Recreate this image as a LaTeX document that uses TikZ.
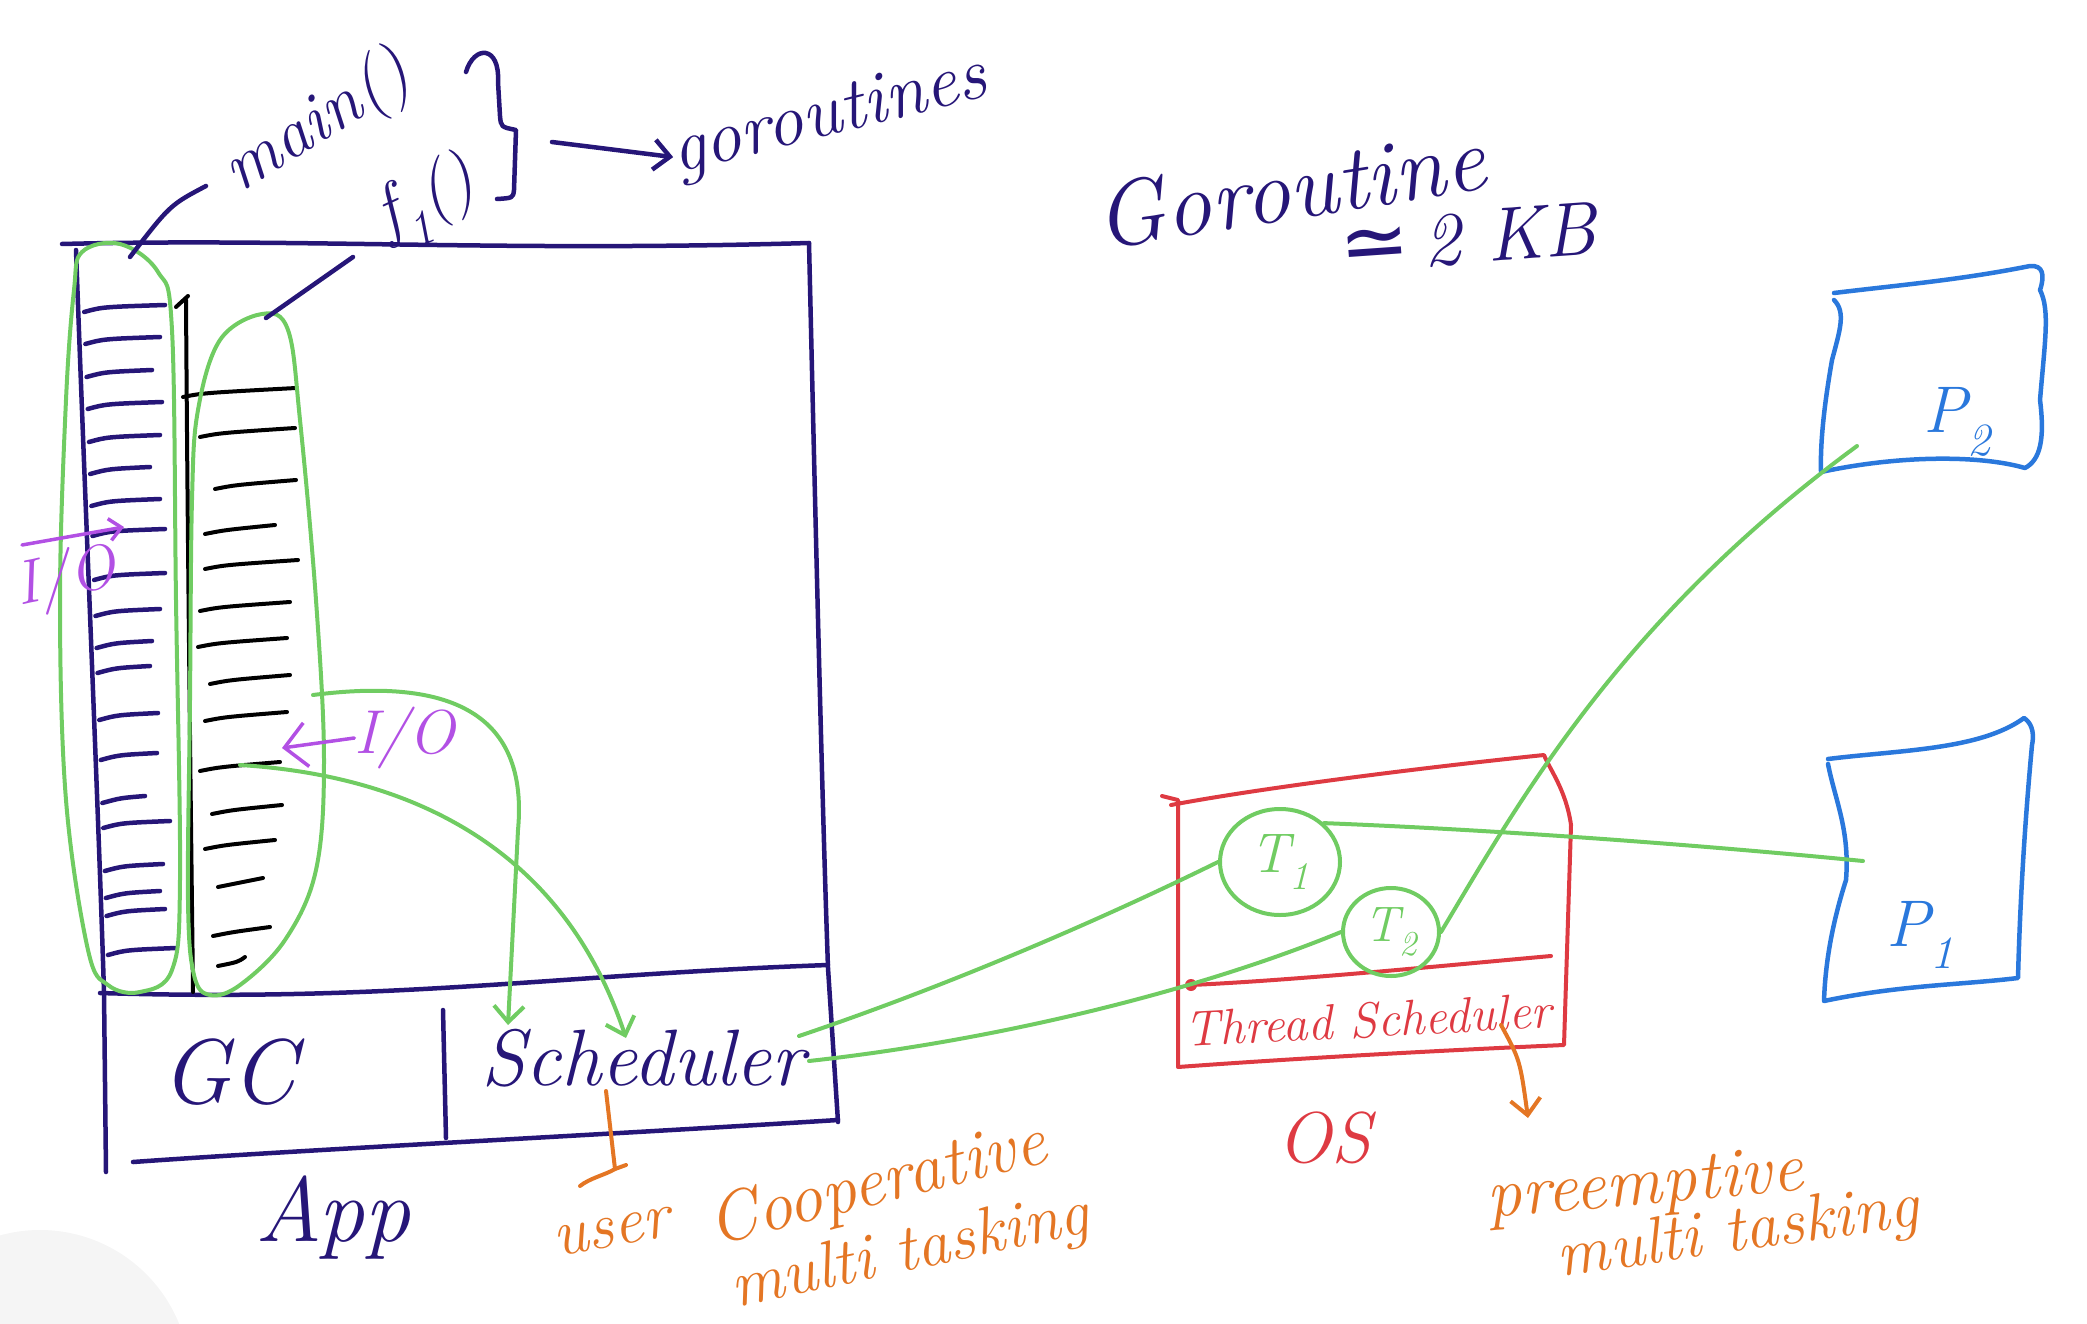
\documentclass[tikz,border=0pt]{standalone}
\usepackage{fontspec}
\newfontfamily\symfont{DejaVu Sans}
\usetikzlibrary{arrows.meta,shapes.geometric}
\definecolor{navy}{RGB}{38,22,120}
\definecolor{gr}{RGB}{112,204,98}
\definecolor{rd}{RGB}{222,58,66}
\definecolor{og}{RGB}{228,118,36}
\definecolor{bl}{RGB}{42,120,220}
\definecolor{pu}{RGB}{178,80,228}
\begin{document}
\begin{tikzpicture}[x=1pt,y=-1pt,line cap=round,line join=round,
  navyline/.style={draw=navy,line width=4.5pt},
  blackline/.style={draw=black,line width=4pt},
  greenline/.style={draw=gr,line width=4pt},
  redline/.style={draw=rd,line width=4pt},
  orangeline/.style={draw=og,line width=4pt},
  blueline/.style={draw=bl,line width=4.5pt},
  purpleline/.style={draw=pu,line width=3.5pt},
  barb/.style={-{Straight Barb[length=16pt,width=30pt]}},
  hand/.style={font=\fontsize{70}{80}\selectfont\itshape,inner sep=0pt},
  thread/.style={ellipse,draw=gr,line width=4pt,inner sep=0pt}]
\useasboundingbox (0,0) rectangle (2087,1324);
% faint overlay at bottom left
\fill[gray!8] (40,1380) circle (150);
% ---------------- App box ----------------
\draw[navyline] (62,244) .. controls (300,238) and (500,252) .. (809,243);
\draw[navyline] (809,243) .. controls (815,500) and (822,800) .. (828,968) -- (838,1122);
\draw[navyline] (76,250) .. controls (85,500) and (98,800) .. (104,992) -- (106,1172);
\draw[navyline] (100,993) .. controls (400,1002) and (550,975) .. (828,965);
\draw[navyline] (133,1162) .. controls (300,1150) and (600,1135) .. (838,1120);
\draw[navyline] (443,1010) -- (446,1138);
% left stack dashes (navy)
\foreach \y/\e in {309/165,341/160,374/152,406/162,439/160,471/150,503/160,533/165,577/165,613/160,645/152,670/150,717/158,757/157,800/145,825/170,868/163,895/160,913/165,952/176}
  \draw[navyline] ({82+0.037*(\y-250)},\y+3) .. controls ({100+0.037*(\y-250)},\y-2) .. (\e,\y-4);
% black stack
\draw[blackline] (186,300) .. controls (188,600) and (192,900) .. (193,992);
\draw[blackline] (176,307) -- (188,296);
\foreach \y/\a/\e in {393/183/296,433/200/295,485/215/296,530/205/275,565/205/298,607/200/290,643/198/287,680/210/290,717/205/287,767/200/280,810/212/282,845/205/275,883/218/263,932/213/270,962/218/245}
  \draw[blackline] (\a,\y+4) .. controls ({\a+20},\y) .. (\e,\y-5);
% green loops (goroutines)
\draw[greenline] plot[smooth cycle,tension=0.6] coordinates {(82,252) (120,244) (158,272) (172,330) (176,600) (180,880) (172,970) (140,992) (108,985) (88,950) (66,800) (60,600) (66,400) (74,290)};
\draw[greenline] plot[smooth cycle,tension=0.6] coordinates {(262,314) (288,330) (300,420) (316,600) (324,760) (316,870) (285,940) (240,985) (210,995) (194,975) (188,900) (190,700) (192,500) (198,410) (220,340)};
\coordinate (loopA) at (130,257);
\coordinate (loopB) at (266,318);
% labels at top
\node[hand,navy,rotate=32] (main) at (318,124) {main()};
\node[hand,navy,rotate=25] (f1) at (428,202) {f\textsubscript{1}()};
\coordinate (mainptr) at (206,186);
\coordinate (f1ptr) at (353,257);
\draw[navyline] (mainptr) .. controls (170,205) .. (loopA);
\draw[navyline] (f1ptr) -- (loopB);
% brace
\draw[navyline] (466,72) .. controls (474,45) and (500,45) .. (498,82) -- (500,116) .. controls (501,127) .. (516,130) -- (514,190) .. controls (513,198) .. (497,199);
\coordinate (braceR) at (552,142);
\node[hand,navy,rotate=14,font=\fontsize{74}{80}\selectfont\itshape] (gor) at (830,118) {goroutines};
\draw[navyline,barb] (braceR) -- (gor.west);
% Goroutine size
\node[hand,navy,rotate=9,font=\fontsize{92}{100}\selectfont\itshape] (gsize) at (1290,188) {Goroutine};
\node[hand,navy,rotate=4,font=\fontsize{76}{80}\selectfont\itshape] (kb) at (1468,238) {{\symfont\fontsize{84}{90}\selectfont ≃}\,2 KB};
% bottom row labels
\node[hand,navy,font=\fontsize{92}{100}\selectfont\itshape] (gc) at (229,1072) {GC};
\node[hand,navy,font=\fontsize{80}{90}\selectfont\itshape] (sched) at (643,1058) {Scheduler};
\node[hand,navy,font=\fontsize{92}{100}\selectfont\itshape] (app) at (333,1218) {App};
% purple I/O marks
\node[hand,pu,rotate=12,font=\fontsize{62}{70}\selectfont\itshape] (io1) at (66,580) {I/O};
\draw[purpleline,-{Straight Barb[length=12pt,width=22pt]}] (22,545) -- (124,527);
\node[hand,pu,font=\fontsize{62}{70}\selectfont\itshape] (io2) at (405,738) {I/O};
\draw[purpleline,-{Straight Barb[length=22pt,width=44pt]}] (io2.west) -- (282,748);
% green lines from goroutines to scheduler
\coordinate (ioA) at (313,695);
\coordinate (ioB) at (240,765);
\coordinate (schA) at (508,1025);
\coordinate (schB) at (626,1038);
\draw[greenline,barb] (ioA) .. controls (430,680) and (530,700) .. (518,830) -- (schA);
\draw[greenline,barb] (ioB) .. controls (400,775) and (560,840) .. (schB);
% ---------------- OS box ----------------
\draw[redline] (1162,796) -- (1178,800) -- (1178,1067) .. controls (1300,1058) and (1450,1050) .. (1564,1045) -- (1571,825) .. controls (1566,790) and (1550,770) .. (1544,755) .. controls (1400,770) and (1250,790) .. (1171,805);
\draw[redline] (1191,985) .. controls (1300,980) and (1450,965) .. (1551,956);
\fill[rd] (1191,985) circle (6);
\node[hand,rd,rotate=3,font=\fontsize{50}{56}\selectfont\itshape] (tsched) at (1368,1020) {Thread Scheduler};
\node[hand,rd,font=\fontsize{72}{80}\selectfont\itshape] (os) at (1324,1138) {OS};
% threads
\node[thread,minimum width=120pt,minimum height=106pt,font=\fontsize{56}{60}\selectfont\itshape,text=gr] (t1) at (1280,862) {T\textsubscript{1}};
\node[thread,minimum width=96pt,minimum height=88pt,font=\fontsize{50}{60}\selectfont\itshape,text=gr] (t2) at (1391,932) {T\textsubscript{2}};
% scheduler to threads
\coordinate (sOut1) at (799,1036);
\coordinate (sOut2) at (809,1061);
\draw[greenline] (sOut1) .. controls (950,985) and (1100,920) .. (t1.west);
\draw[greenline] (sOut2) .. controls (1000,1040) and (1200,990) .. (t2.west);
% ---------------- processors ----------------
\draw[blueline] (1834,300) .. controls (1846,312) and (1840,330) .. (1832,360) .. controls (1825,400) and (1820,440) .. (1821,472) .. controls (1900,455) and (1980,455) .. (2025,468) .. controls (2040,460) and (2045,440) .. (2040,400) .. controls (2045,340) and (2050,310) .. (2040,290) .. controls (2045,275) and (2043,265) .. (2030,266) .. controls (1960,280) and (1900,285) .. (1834,293);
\node[hand,bl,font=\fontsize{66}{70}\selectfont\itshape] (p2) at (1957,422) {P\textsubscript{2}};
\draw[blueline] (1828,764) .. controls (1835,800) and (1850,830) .. (1846,880) .. controls (1830,930) and (1825,970) .. (1824,1001) .. controls (1900,985) and (1960,985) .. (2018,978) .. controls (2020,900) and (2025,820) .. (2032,745) .. controls (2035,730) and (2030,722) .. (2024,718) .. controls (1980,750) and (1900,750) .. (1828,759);
\node[hand,bl,font=\fontsize{66}{70}\selectfont\itshape] (p1) at (1920,935) {P\textsubscript{1}};
\coordinate (p2in) at (1857,446);
\coordinate (p1in) at (1863,861);
\draw[greenline] (t1.north east) .. controls (1500,830) and (1700,845) .. (p1in);
\draw[greenline] (t2.east) .. controls (1520,800) and (1620,620) .. (p2in);
% ---------------- orange notes ----------------
\coordinate (schDown) at (606,1091);
\coordinate (userTop) at (615,1169);
\draw[orangeline] (schDown) -- (userTop) .. controls (605,1175) and (590,1178) .. (580,1186);
\draw[orangeline] (615,1169) -- (626,1165);
\node[hand,og,rotate=10,font=\fontsize{66}{70}\selectfont\itshape] (user) at (612,1232) {user};
\node[hand,og,rotate=14,font=\fontsize{70}{80}\selectfont\itshape] (coop) at (878,1186) {Cooperative};
\node[hand,og,rotate=12,font=\fontsize{66}{80}\selectfont\itshape] (mt1) at (910,1254) {multi tasking};
\coordinate (tsDown) at (1501,1025);
\node[hand,og,rotate=5,font=\fontsize{70}{80}\selectfont\itshape] (pre) at (1645,1188) {preemptive};
\node[hand,og,rotate=8,font=\fontsize{66}{80}\selectfont\itshape] (mt2) at (1738,1235) {multi tasking};
\draw[orangeline,barb] (tsDown) .. controls (1520,1060) .. (1528,1118);
\end{tikzpicture}
\end{document}
